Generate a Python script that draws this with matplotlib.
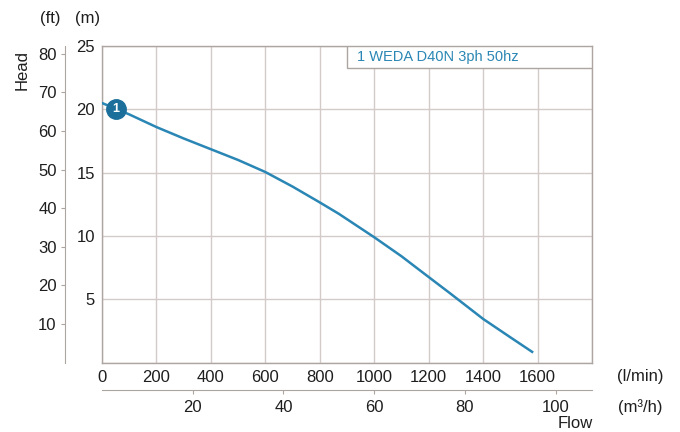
import matplotlib.pyplot as plt
from matplotlib.patches import Rectangle

plt.rcParams['font.family'] = ['Liberation Sans', 'DejaVu Sans']

# curve (flow in l/min, head in m)
flow_lmin = [0, 50, 100, 200, 300, 400, 500, 600, 700, 800, 870, 1000,
             1100, 1170, 1280, 1400, 1500, 1580]
head_m = [20.5, 20.05, 19.6, 18.6, 17.7, 16.85, 16.0, 15.05, 13.9, 12.65, 11.75, 9.9,
          8.4, 7.25, 5.45, 3.45, 2.0, 0.85]

m_ticks = [5, 10, 15, 20, 25]
ft_ticks = [10, 20, 30, 40, 50, 60, 70, 80]
lmin_ticks = [0, 200, 400, 600, 800, 1000, 1200, 1400, 1600]
m3h_ticks = [20, 40, 60, 80, 100]

pump_label = "1 WEDA D40N 3ph 50hz"
marker_pt = (50, 20.0)

line_col = '#2a86b4'
dot_col = '#1c6f9b'
grid_col = '#d3cbc7'
frame_col = '#ada5a1'
text_col = '#1e1e1e'
fs = 12

fig = plt.figure(figsize=(6.8, 4.32), dpi=100)
ax = fig.add_axes([0.15, 0.1606, 0.7206, 0.7329])

ax.set_xlim(0, 1800)
ax.set_ylim(0, 25)
ax.set_xticks(lmin_ticks + [1800])
ax.set_xticklabels([str(t) for t in lmin_ticks] + [''])
ax.set_yticks([0] + m_ticks)
ax.set_yticklabels([''] + [str(t) for t in m_ticks])
ax.tick_params(length=0, labelsize=fs, colors=text_col, pad=5)
ax.grid(True, color=grid_col, lw=1)
for s in ax.spines.values():
    s.set_color(frame_col)
    s.set_linewidth(1)

ax.plot(flow_lmin, head_m, color=line_col, lw=1.8, zorder=3, solid_joinstyle='round')
ax.plot(*marker_pt, 'o', ms=14, color=dot_col, zorder=4, clip_on=False)
ax.text(*marker_pt, '1', color='white', fontsize=9, fontweight='bold',
        ha='center', va='center', zorder=5)

# legend box
ax.add_patch(Rectangle((0.5, 0.9305), 0.5, 0.0695, transform=ax.transAxes,
                       facecolor='white', edgecolor=frame_col, lw=1, zorder=6))
ax.text(0.52, 0.9655, pump_label, transform=ax.transAxes, color=line_col,
        fontsize=10.5, va='center', ha='left', zorder=7)

# head in ft
ft = ax.secondary_yaxis(-0.0755, functions=(lambda m: m / 0.3048, lambda f: f * 0.3048))
ft.set_yticks(ft_ticks)
ft.tick_params(direction='out', length=3, color=frame_col, labelsize=fs,
               labelcolor=text_col, pad=3)
ft.spines['left'].set_color(frame_col)

# flow in m3/h
m3h = ax.secondary_xaxis(-0.0865, functions=(lambda q: q * 0.06, lambda q: q / 0.06))
m3h.set_xticks(m3h_ticks)
m3h.tick_params(direction='out', length=3, color=frame_col, labelsize=fs,
                labelcolor=text_col, pad=4)
m3h.spines['bottom'].set_color(frame_col)

fig.text(50 / 680, 1 - 18 / 432, '(ft)', fontsize=fs, color=text_col, ha='center', va='center')
fig.text(88 / 680, 1 - 18 / 432, '(m)', fontsize=fs, color=text_col, ha='center', va='center')
fig.text(22 / 680, 1 - 70 / 432, 'Head', fontsize=fs, color=text_col, ha='center',
         va='center', rotation=90)
fig.text(640 / 680, 1 - 376 / 432, '(l/min)', fontsize=fs, color=text_col, ha='center', va='center')
fig.text(640 / 680, 1 - 407 / 432, '(m³/h)', fontsize=fs, color=text_col, ha='center', va='center')
fig.text(575 / 680, 1 - 424 / 432, 'Flow', fontsize=fs, color=text_col, ha='center', va='center')

fig.savefig('out.png', dpi=100)
